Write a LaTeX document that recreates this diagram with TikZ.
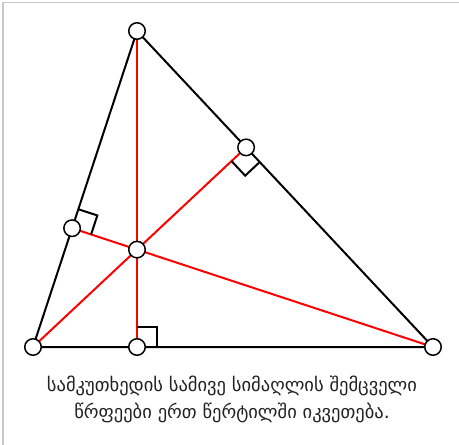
\documentclass[tikz,border=0pt]{standalone}
\usepackage{fontspec}
\usetikzlibrary{calc}
\newfontfamily\geo[Script=Georgian]{DejaVu Sans}
\definecolor{framegray}{HTML}{C8C8C8}
\definecolor{txtgray}{HTML}{222222}
\begin{document}
\begin{tikzpicture}[x=1pt,y=-1pt,
  side/.style={black,line width=2pt},
  alt/.style={red,line width=2pt},
  rmark/.style={black,line width=2pt},
  pt/.style={circle,draw=black,fill=white,line width=1.5pt,minimum size=16.5pt,inner sep=0pt},
  caption/.style={font=\geo\fontsize{18.5}{27}\selectfont,text=txtgray,align=center}]
\useasboundingbox (0,0) rectangle (459,445);
\fill[white] (0,0) rectangle (459,445);
\draw[framegray,line width=1.5pt] (3,445) -- (3,2.5) -- (459,2.5);
% coordinates
\coordinate (A) at (137,31);
\coordinate (B) at (33,347);
\coordinate (C) at (433,347);
\coordinate (Ha) at (137,347);
\coordinate (Hb) at (246.1,147.4);
\coordinate (Hc) at (72.1,228.2);
\coordinate (H) at (137,249.6);
% sides
\draw[side,line join=round] (A) -- (B) -- (C) -- cycle;
% altitudes
\draw[alt] (A) -- (Ha);
\draw[alt] (B) -- (Hb);
\draw[alt] (C) -- (Hc);
% right-angle marks
\coordinate (a1) at ($(Ha)!20pt!(C)$);
\coordinate (a2) at ($(Ha)!20pt!(A)$);
\draw[rmark] (a1) -- ($(a1)+(a2)-(Ha)$) -- (a2);
\coordinate (b1) at ($(Hb)!20pt!(C)$);
\coordinate (b2) at ($(Hb)!20pt!(B)$);
\draw[rmark] (b1) -- ($(b1)+(b2)-(Hb)$) -- (b2);
\coordinate (c1) at ($(Hc)!20pt!(A)$);
\coordinate (c2) at ($(Hc)!20pt!(C)$);
\draw[rmark] (c1) -- ($(c1)+(c2)-(Hc)$) -- (c2);
% points
\foreach \p in {A,B,C,Ha,Hb,Hc,H} \node[pt] (n\p) at (\p) {};
% caption
\node[caption] (cap) at (232,399) {სამკუთხედის სამივე სიმაღლის შემცველი\\წრფეები ერთ წერტილში იკვეთება.};
\end{tikzpicture}
\end{document}
